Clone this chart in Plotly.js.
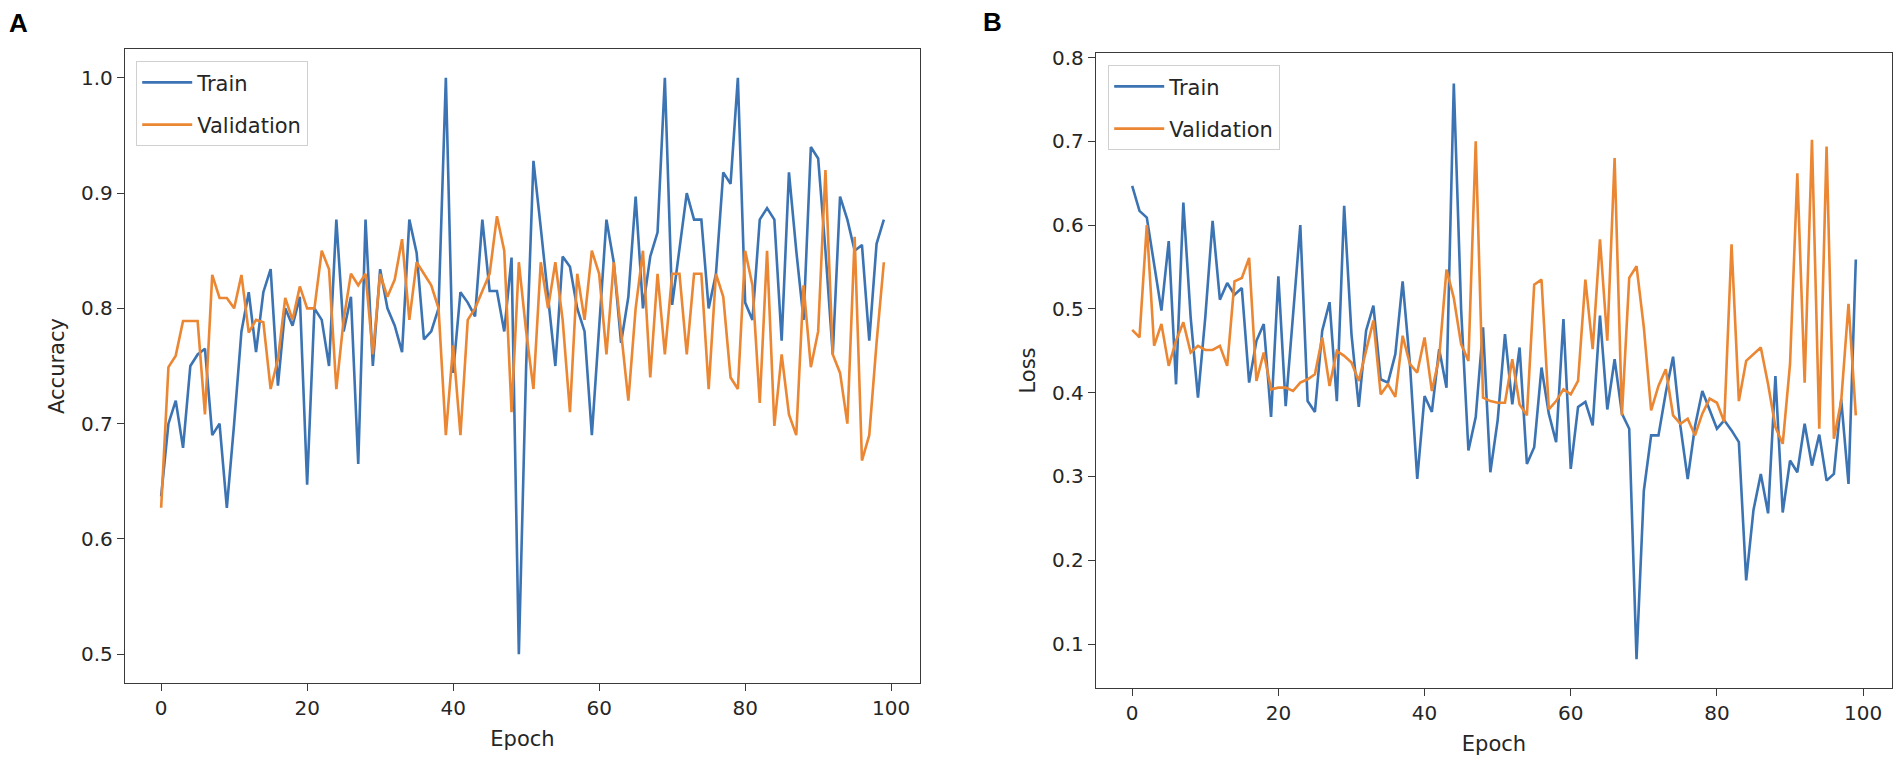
<!DOCTYPE html>
<html>
<head>
<meta charset="utf-8">
<script src="https://cdn.plot.ly/plotly-3.0.1.min.js"></script>
<style>
  html, body { margin: 0; padding: 0; background: #ffffff; }
  #chart { width: 1902px; height: 769px; }
</style>
</head>
<body>
<div id="chart"></div>
<script>
// ---- Data ----
const seriesNames = ["Train", "Validation"];

const accuracyTrain = [
  0.637,0.70,0.72,0.679,0.75,0.76,0.765,0.69,0.70,0.627,
  0.70,0.78,0.814,0.762,0.814,0.834,0.733,0.80,0.785,0.81,
  0.647,0.80,0.79,0.75,0.877,0.78,0.81,0.665,0.877,0.75,
  0.834,0.80,0.785,0.762,0.877,0.848,0.773,0.78,0.80,1.0,
  0.744,0.814,0.805,0.793,0.877,0.815,0.815,0.78,0.844,0.50,
  0.75,0.928,0.87,0.81,0.75,0.845,0.836,0.80,0.78,0.69,
  0.785,0.877,0.84,0.77,0.81,0.897,0.80,0.845,0.866,1.0,
  0.803,0.854,0.90,0.877,0.877,0.80,0.83,0.918,0.908,1.0,
  0.805,0.79,0.877,0.887,0.877,0.772,0.918,0.85,0.79,0.94,
  0.93,0.85,0.76,0.897,0.877,0.85,0.855,0.772,0.856,0.877
];

const accuracyValidation = [
  0.627,0.749,0.759,0.789,0.789,0.789,0.708,0.829,0.809,0.809,
  0.80,0.829,0.779,0.79,0.788,0.73,0.756,0.809,0.79,0.819,
  0.80,0.80,0.85,0.834,0.73,0.79,0.83,0.82,0.83,0.76,
  0.83,0.81,0.825,0.86,0.79,0.84,0.83,0.82,0.80,0.69,
  0.768,0.69,0.79,0.80,0.815,0.83,0.88,0.85,0.71,0.84,
  0.78,0.73,0.84,0.80,0.84,0.79,0.71,0.83,0.79,0.85,
  0.83,0.76,0.84,0.78,0.72,0.80,0.85,0.74,0.83,0.76,
  0.83,0.83,0.76,0.83,0.83,0.73,0.83,0.81,0.74,0.73,
  0.85,0.82,0.718,0.85,0.698,0.76,0.708,0.69,0.82,0.749,
  0.78,0.92,0.76,0.744,0.70,0.862,0.668,0.69,0.77,0.84
];

const lossTrain = [
  0.647,0.617,0.609,0.553,0.498,0.581,0.410,0.627,0.49,0.394,
  0.49,0.605,0.511,0.531,0.517,0.525,0.412,0.462,0.482,0.371,
  0.539,0.384,0.49,0.60,0.390,0.377,0.474,0.508,0.39,0.623,
  0.47,0.383,0.474,0.504,0.416,0.412,0.446,0.533,0.434,0.297,
  0.396,0.377,0.452,0.406,0.769,0.50,0.331,0.371,0.478,0.305,
  0.367,0.47,0.386,0.454,0.315,0.335,0.43,0.375,0.341,0.488,
  0.309,0.383,0.389,0.361,0.492,0.38,0.44,0.375,0.357,0.082,
  0.283,0.349,0.349,0.40,0.443,0.36,0.297,0.36,0.402,0.38,
  0.357,0.367,0.355,0.341,0.176,0.26,0.303,0.256,0.42,0.257,
  0.319,0.305,0.363,0.313,0.35,0.295,0.303,0.392,0.291,0.559
];

const lossValidation = [
  0.475,0.466,0.60,0.456,0.482,0.432,0.462,0.484,0.448,0.456,
  0.451,0.451,0.456,0.432,0.533,0.537,0.561,0.414,0.448,0.404,
  0.406,0.406,0.402,0.412,0.416,0.422,0.466,0.408,0.45,0.444,
  0.436,0.414,0.45,0.486,0.398,0.41,0.395,0.468,0.434,0.424,
  0.466,0.402,0.442,0.547,0.513,0.458,0.438,0.70,0.394,0.39,
  0.388,0.388,0.44,0.386,0.373,0.529,0.535,0.38,0.39,0.404,
  0.398,0.414,0.535,0.452,0.583,0.462,0.68,0.373,0.537,0.551,
  0.478,0.379,0.408,0.428,0.373,0.363,0.369,0.349,0.375,0.393,
  0.388,0.365,0.577,0.39,0.438,0.446,0.454,0.41,0.359,0.339,
  0.434,0.662,0.412,0.702,0.357,0.694,0.345,0.39,0.506,0.373
];

const epochTicks = [0, 20, 40, 60, 80, 100];
const accuracyTicks = [0.5, 0.6, 0.7, 0.8, 0.9, 1.0];
const accuracyTickLabels = ["0.5", "0.6", "0.7", "0.8", "0.9", "1.0"];
const lossTicks = [0.1, 0.2, 0.3, 0.4, 0.5, 0.6, 0.7, 0.8];
const lossTickLabels = ["0.1", "0.2", "0.3", "0.4", "0.5", "0.6", "0.7", "0.8"];
const panelLabels = ["A", "B"];
const axisTitles = { x: "Epoch", yA: "Accuracy", yB: "Loss" };

// ---- Styling ----
const W = 1902, H = 769;
const BLUE = "#3b73b3";
const ORANGE = "#eb8633";
const FONT = "DejaVu Sans, Verdana, sans-serif";
const TXT = "#262626";
const SPINE = "#3a3a3a";

function line(y, name, color, xa, ya, legendId, group) {
  return {
    y: y, type: "scatter", mode: "lines", name: name,
    line: { color: color, width: 2.6 },
    xaxis: xa, yaxis: ya, legend: legendId, legendgroup: group,
    hoverinfo: "x+y"
  };
}

const data = [
  line(accuracyTrain, seriesNames[0], BLUE, "x", "y", "legend", "a1"),
  line(accuracyValidation, seriesNames[1], ORANGE, "x", "y", "legend", "a2"),
  line(lossTrain, seriesNames[0], BLUE, "x2", "y2", "legend2", "b1"),
  line(lossValidation, seriesNames[1], ORANGE, "x2", "y2", "legend2", "b2")
];

function xAxis(domain, anchor) {
  return {
    domain: domain, anchor: anchor, range: [-4.95, 103.95],
    tickmode: "array", tickvals: epochTicks, ticktext: epochTicks.map(String),
    ticks: "outside", ticklen: 7, tickwidth: 1.3, tickcolor: SPINE,
    showline: true, linecolor: SPINE, linewidth: 1.4, mirror: true,
    showgrid: false, zeroline: false,
    tickfont: { family: FONT, size: 20, color: TXT },
    title: { text: axisTitles.x, font: { family: FONT, size: 21, color: TXT }, standoff: 12 },
    automargin: false, fixedrange: true
  };
}
function yAxis(domain, anchor, range, vals, labels, title) {
  return {
    domain: domain, anchor: anchor, range: range,
    tickmode: "array", tickvals: vals, ticktext: labels,
    ticks: "outside", ticklen: 7, tickwidth: 1.3, tickcolor: SPINE,
    showline: true, linecolor: SPINE, linewidth: 1.4, mirror: true,
    showgrid: false, zeroline: false,
    tickfont: { family: FONT, size: 20, color: TXT },
    title: { text: title, font: { family: FONT, size: 21, color: TXT }, standoff: 10 },
    automargin: false, fixedrange: true
  };
}

function legendAt(xpx, ypx) {
  return {
    x: xpx / W, y: 1 - ypx / H, xanchor: "left", yanchor: "top",
    xref: "paper", yref: "paper",
    bgcolor: "rgba(255,255,255,0.85)", bordercolor: "#d0d0d0", borderwidth: 1.2,
    font: { family: FONT, size: 21, color: TXT },
    traceorder: "grouped", tracegroupgap: 12, itemwidth: 50
  };
}

const layout = {
  width: W, height: H,
  margin: { l: 0, r: 0, t: 0, b: 0 },
  paper_bgcolor: "#ffffff", plot_bgcolor: "#ffffff",
  showlegend: true,
  xaxis: xAxis([125 / W, 920 / W], "y"),
  yaxis: yAxis([1 - 683 / H, 1 - 49 / H], "x", [0.475, 1.025], accuracyTicks, accuracyTickLabels, axisTitles.yA),
  xaxis2: xAxis([1096 / W, 1892 / W], "y2"),
  yaxis2: yAxis([1 - 688 / H, 1 - 53 / H], "x2", [0.0475, 0.8055], lossTicks, lossTickLabels, axisTitles.yB),
  legend: legendAt(136, 61),
  legend2: legendAt(1108, 65),
  annotations: [
    { text: "<b>" + panelLabels[0] + "</b>", xref: "paper", yref: "paper", x: 18 / W, y: 1 - 23 / H,
      xanchor: "center", yanchor: "middle", showarrow: false,
      font: { family: "Liberation Sans, Arial, sans-serif", size: 26, color: "#000" } },
    { text: "<b>" + panelLabels[1] + "</b>", xref: "paper", yref: "paper", x: 992 / W, y: 1 - 22 / H,
      xanchor: "center", yanchor: "middle", showarrow: false,
      font: { family: "Liberation Sans, Arial, sans-serif", size: 26, color: "#000" } }
  ]
};

Plotly.newPlot("chart", data, layout, { displayModeBar: false, staticPlot: false, responsive: false });
</script>
</body>
</html>
